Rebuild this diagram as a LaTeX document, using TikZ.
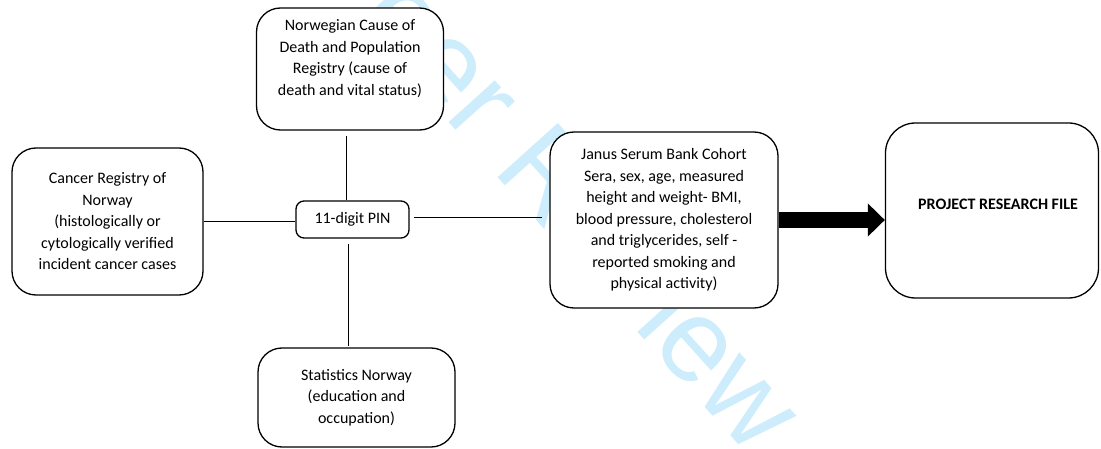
\documentclass[tikz,border=0pt]{standalone}
\usepackage{fontspec}
\setmainfont{Carlito}
\newfontfamily\wmfont{Liberation Sans}
\usetikzlibrary{arrows.meta}
\definecolor{wmblue}{RGB}{205,237,252}
\tikzset{
  box/.style={draw=black, line width=1.3pt, fill=white, rounded corners=24pt,
    align=center, inner sep=0pt, font=\fontsize{16}{21.5}\selectfont},
  conn/.style={draw=black, line width=0.8pt},
  bigarrow/.style={line width=16pt, -{Triangle[length=17pt,width=32pt]}},
}
\begin{document}
\begin{tikzpicture}[x=1pt,y=-1pt]
\useasboundingbox (0,0) rectangle (1101,449);
% watermark
\node[text=wmblue, rotate=-48, font=\wmfont\fontsize{118}{118}\selectfont, inner sep=0pt] (wm) at (488,103) {For Peer Review};
% boxes
\node[box, minimum width=187pt, minimum height=122pt] (ncd) at (350,69)
  {Norwegian Cause of\\Death and Population\\Registry (cause of\\death and vital status)\\[2pt]};
\node[box, minimum width=191pt, minimum height=147pt] (crn) at (107.5,221.5)
  {Cancer Registry of\\Norway\\(histologically or\\cytologically verified\\incident cancer cases};
\node[box, rounded corners=8pt, minimum width=113pt, minimum height=37pt] (pin) at (352.5,219.5)
  {11-digit PIN};
\node[box, minimum width=228pt, minimum height=176pt] (jan) at (664,220)
  {Janus Serum Bank Cohort\\Sera, sex, age, measured\\height and weight- BMI,\\blood pressure, cholesterol\\and triglycerides, self -\\reported smoking and\\physical activity)};
\node[box, rounded corners=30pt, minimum width=213pt, minimum height=175pt] (prf) at (992,210.5) {};
\node[font=\fontsize{16}{21.5}\selectfont\bfseries, inner sep=0pt] (prft) at (998,204) {PROJECT RESEARCH FILE};
\node[box, minimum width=197pt, minimum height=99pt] (stn) at (356.5,397.5)
  {Statistics Norway\\(education and\\occupation)};
% connectors
\draw[conn, shorten <=5pt] ([xshift=-4pt]ncd.south) -- ([xshift=-4pt]ncd.south |- pin.north);
\draw[conn, shorten <=5pt, shorten >=1pt] ([xshift=-4.5pt]pin.south) -- ([xshift=-4.5pt]pin.south |- stn.north);
\draw[conn] (crn.east) -- (crn.east -| pin.west);
\draw[conn, shorten <=4pt, shorten >=7pt] ([yshift=2pt]pin.east) -- ([yshift=2pt]pin.east -| jan.west);
\draw[bigarrow] (jan.east) -- (jan.east -| prf.west);
\end{tikzpicture}
\end{document}
